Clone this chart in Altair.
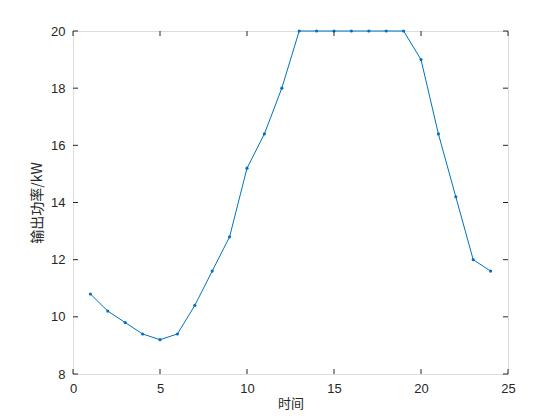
import altair as alt
import pandas as pd

hours = list(range(1, 25))
power = [10.8, 10.2, 9.8, 9.4, 9.2, 9.4, 10.4, 11.6, 12.8, 15.2, 16.4, 18.0,
         20, 20, 20, 20, 20, 20, 20, 19.0, 16.4, 14.2, 12.0, 11.6]
x_ticks = [0, 5, 10, 15, 20, 25]
y_ticks = [8, 10, 12, 14, 16, 18, 20]

df = pd.DataFrame({"t": hours, "p": power})
xt = pd.DataFrame({"v": x_ticks})
yt = pd.DataFrame({"v": y_ticks})

W, H = 435, 343
TL = 5
xs = alt.Scale(domain=[0, 25], nice=False)
ys = alt.Scale(domain=[8, 20], nice=False)
font = "Liberation Sans"
cjk = "Noto Sans CJK SC"

base = alt.Chart(df)
line = base.mark_line(color="#0072BD", strokeWidth=1).encode(
    x=alt.X("t:Q", scale=xs, title="时间",
            axis=alt.Axis(values=x_ticks, ticks=False, domain=False, grid=False,
                          labelFlush=False,
                          labelPadding=8, labelFontSize=13, labelFont=font,
                          labelColor="#262626", titleFont=cjk, titleFontSize=13,
                          titleFontWeight="normal", titleColor="#262626",
                          titlePadding=2)),
    y=alt.Y("p:Q", scale=ys, title="输出功率/kW",
            axis=alt.Axis(values=y_ticks, ticks=False, domain=False, grid=False,
                          labelFlush=False,
                          labelPadding=8, labelFontSize=13, labelFont=font,
                          labelColor="#262626", titleFont=cjk, titleFontSize=14,
                          titleFontWeight="normal", titleColor="#262626",
                          titlePadding=6)),
)
pts = base.mark_circle(color="#0072BD", size=10, opacity=1).encode(
    x=alt.X("t:Q", scale=xs), y=alt.Y("p:Q", scale=ys))

tc = "#262626"
xb = alt.Chart(xt).mark_rule(color=tc, strokeWidth=1).encode(
    x=alt.X("v:Q", scale=xs), y=alt.value(H), y2=alt.value(H - TL))
xtop = alt.Chart(xt).mark_rule(color=tc, strokeWidth=1).encode(
    x=alt.X("v:Q", scale=xs), y=alt.value(0), y2=alt.value(TL))
yl = alt.Chart(yt).mark_rule(color=tc, strokeWidth=1).encode(
    y=alt.Y("v:Q", scale=ys), x=alt.value(0), x2=alt.value(TL))
yr = alt.Chart(yt).mark_rule(color=tc, strokeWidth=1).encode(
    y=alt.Y("v:Q", scale=ys), x=alt.value(W), x2=alt.value(W - TL))

chart = alt.layer(line, pts, xb, xtop, yl, yr).properties(
    width=W, height=H,
    autosize=alt.AutoSizeParams(type="none"),
    padding={"left": 65, "top": 23, "right": 36, "bottom": 38},
).configure_view(stroke="#262626", strokeWidth=1).configure(background="white")

chart.save("out.html", embed_options={"renderer": "svg", "actions": False})
